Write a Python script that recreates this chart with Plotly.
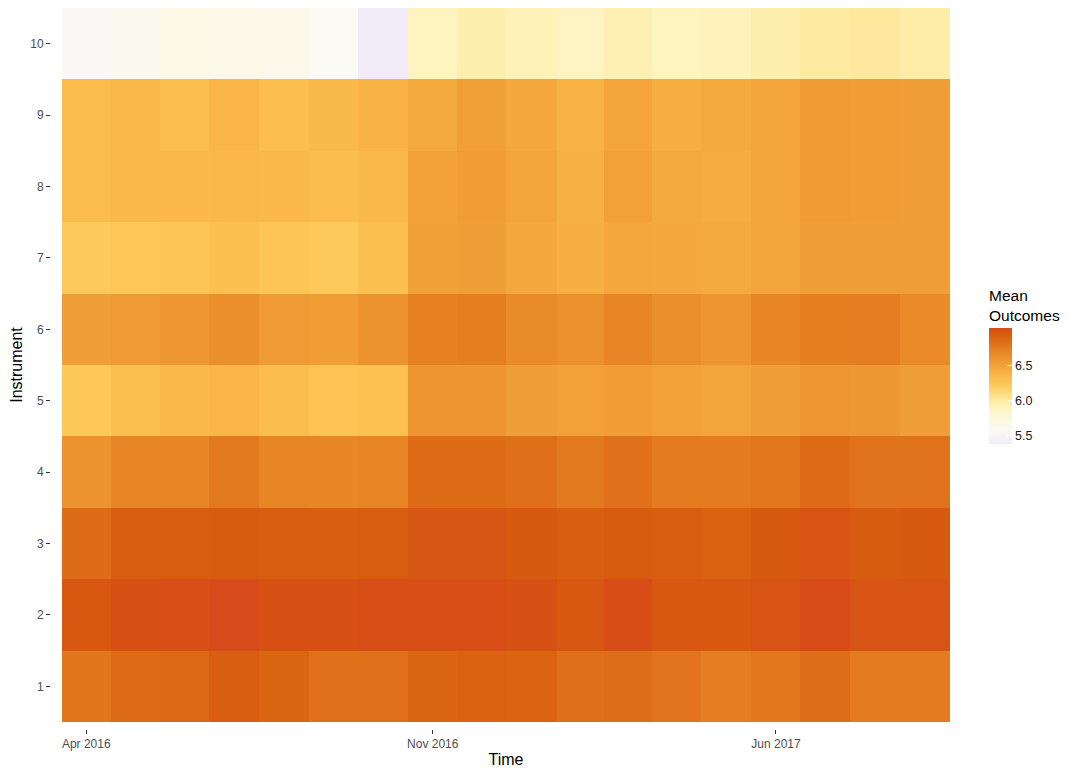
import plotly.graph_objects as go

months = ["2016-04-01", "2016-05-01", "2016-06-01", "2016-07-01", "2016-08-01", "2016-09-01",
          "2016-10-01", "2016-11-01", "2016-12-01", "2017-01-01", "2017-02-01", "2017-03-01",
          "2017-04-01", "2017-05-01", "2017-06-01", "2017-07-01", "2017-08-01", "2017-09-01"]
instruments = [1, 2, 3, 4, 5, 6, 7, 8, 9, 10]

inst1 = [6.79, 6.85, 6.87, 6.93, 6.88, 6.82, 6.82, 6.88, 6.90, 6.89, 6.83, 6.84, 6.80, 6.74, 6.78, 6.84, 6.76, 6.76]
inst2 = [6.97, 7.00, 7.01, 7.035, 7.00, 7.00, 7.01, 7.01, 7.01, 7.00, 6.97, 7.02, 6.97, 6.97, 6.99, 7.03, 6.99, 6.99]
inst3 = [6.85, 6.93, 6.94, 6.95, 6.93, 6.93, 6.94, 6.98, 6.98, 6.96, 6.93, 6.95, 6.94, 6.91, 6.96, 6.99, 6.95, 6.96]
inst4 = [6.61, 6.70, 6.70, 6.77, 6.70, 6.69, 6.70, 6.85, 6.85, 6.83, 6.77, 6.82, 6.76, 6.76, 6.78, 6.85, 6.81, 6.81]
inst5 = [6.24, 6.30, 6.35, 6.38, 6.32, 6.28, 6.29, 6.60, 6.60, 6.53, 6.51, 6.54, 6.50, 6.48, 6.53, 6.59, 6.58, 6.53]
inst6 = [6.53, 6.56, 6.59, 6.64, 6.56, 6.54, 6.61, 6.73, 6.75, 6.66, 6.63, 6.70, 6.64, 6.60, 6.69, 6.75, 6.74, 6.67]
inst7 = [6.22, 6.25, 6.26, 6.30, 6.26, 6.22, 6.30, 6.52, 6.53, 6.46, 6.42, 6.47, 6.46, 6.45, 6.48, 6.53, 6.53, 6.53]
inst8 = [6.33, 6.35, 6.35, 6.36, 6.35, 6.32, 6.35, 6.51, 6.54, 6.49, 6.41, 6.51, 6.45, 6.44, 6.49, 6.55, 6.54, 6.53]
inst9 = [6.33, 6.35, 6.31, 6.37, 6.31, 6.34, 6.39, 6.45, 6.52, 6.46, 6.40, 6.48, 6.42, 6.45, 6.49, 6.55, 6.54, 6.53]
inst10 = [5.57, 5.62, 5.68, 5.67, 5.65, 5.58, 5.384, 5.90, 5.96, 5.92, 5.88, 5.94, 5.90, 5.91, 5.96, 6.00, 6.01, 5.98]

x_tick_vals = ["2016-04-01", "2016-11-01", "2017-06-01"]
x_tick_text = ["Apr 2016", "Nov 2016", "Jun 2017"]
cb_tick_vals = [5.5, 6.0, 6.5]
cb_tick_text = ["5.5", "6.0", "6.5"]

z = [inst1, inst2, inst3, inst4, inst5, inst6, inst7, inst8, inst9, inst10]
zmin = min(min(r) for r in z)
zmax = max(max(r) for r in z)

# colour anchors (value, colour)
anchors = [
    (zmin, "#f1ecf8"),
    (5.50, "#f7f4f6"),
    (5.58, "#fbfaf5"),
    (5.68, "#fdf9e6"),
    (5.90, "#fef4bf"),
    (6.00, "#feeba2"),
    (6.12, "#fdd87a"),
    (6.22, "#fdc95c"),
    (6.30, "#fcc050"),
    (6.40, "#f8b243"),
    (6.50, "#f2a239"),
    (6.60, "#ed9531"),
    (6.70, "#e88526"),
    (6.80, "#e1741c"),
    (6.90, "#da6210"),
    (6.95, "#d85c0f"),
    (zmax, "#d74a19"),
]
colorscale = []
for v, c in anchors:
    p = (v - zmin) / (zmax - zmin)
    p = min(max(p, 0.0), 1.0)
    colorscale.append([p, c])
colorscale[0][0] = 0.0
colorscale[-1][0] = 1.0

font_family = "Liberation Sans, Arial, sans-serif"

fig = go.Figure(go.Heatmap(
    x=months,
    y=instruments,
    z=z,
    zmin=zmin,
    zmax=zmax,
    colorscale=colorscale,
    xgap=0, ygap=0,
    colorbar=dict(
        title=dict(text="Mean<br>Outcomes", side="top",
                   font=dict(size=15.5, color="#000000", family=font_family)),
        x=(989 - 50) / 900, xanchor="left",
        y=(729 - 444) / 721, yanchor="bottom",
        len=158, lenmode="pixels",
        thickness=23, thicknessmode="pixels",
        outlinewidth=0,
        tickvals=cb_tick_vals,
        ticktext=cb_tick_text,
        ticks="inside", ticklen=5, tickcolor="#ffffff", tickwidth=1,
        tickfont=dict(size=12.5, color="#1a1a1a", family=font_family),
        xpad=0, ypad=0,
    ),
))

fig.update_layout(
    width=1062, height=760,
    margin=dict(l=42, r=120, t=0, b=39, autoexpand=False),
    paper_bgcolor="white",
    plot_bgcolor="white",
    font=dict(family=font_family),
    xaxis=dict(
        type="date",
        domain=[12 / 900, 1.0],
        anchor="free", position=0,
        automargin=False,
        tickvals=x_tick_vals,
        ticktext=x_tick_text,
        ticks="outside", ticklen=4, tickcolor="#333333", tickwidth=1,
        ticklabelstandoff=0,
        tickfont=dict(size=12, color="#4d4d4d", family=font_family),
        showgrid=False, zeroline=False, showline=False,
        title=dict(text="Time", font=dict(size=16, color="#000000", family=font_family), standoff=4),
    ),
    yaxis=dict(
        domain=[7 / 721, 1.0],
        anchor="free", position=0,
        automargin=False,
        range=[0.5, 10.5],
        tickvals=instruments,
        ticktext=[str(i) for i in instruments],
        ticks="outside", ticklen=4, tickcolor="#333333", tickwidth=1,
        tickfont=dict(size=12, color="#4d4d4d", family=font_family),
        showgrid=False, zeroline=False, showline=False,
        title=dict(text="Instrument", font=dict(size=16, color="#000000", family=font_family), standoff=2),
    ),
)

fig.write_html("out.html")
